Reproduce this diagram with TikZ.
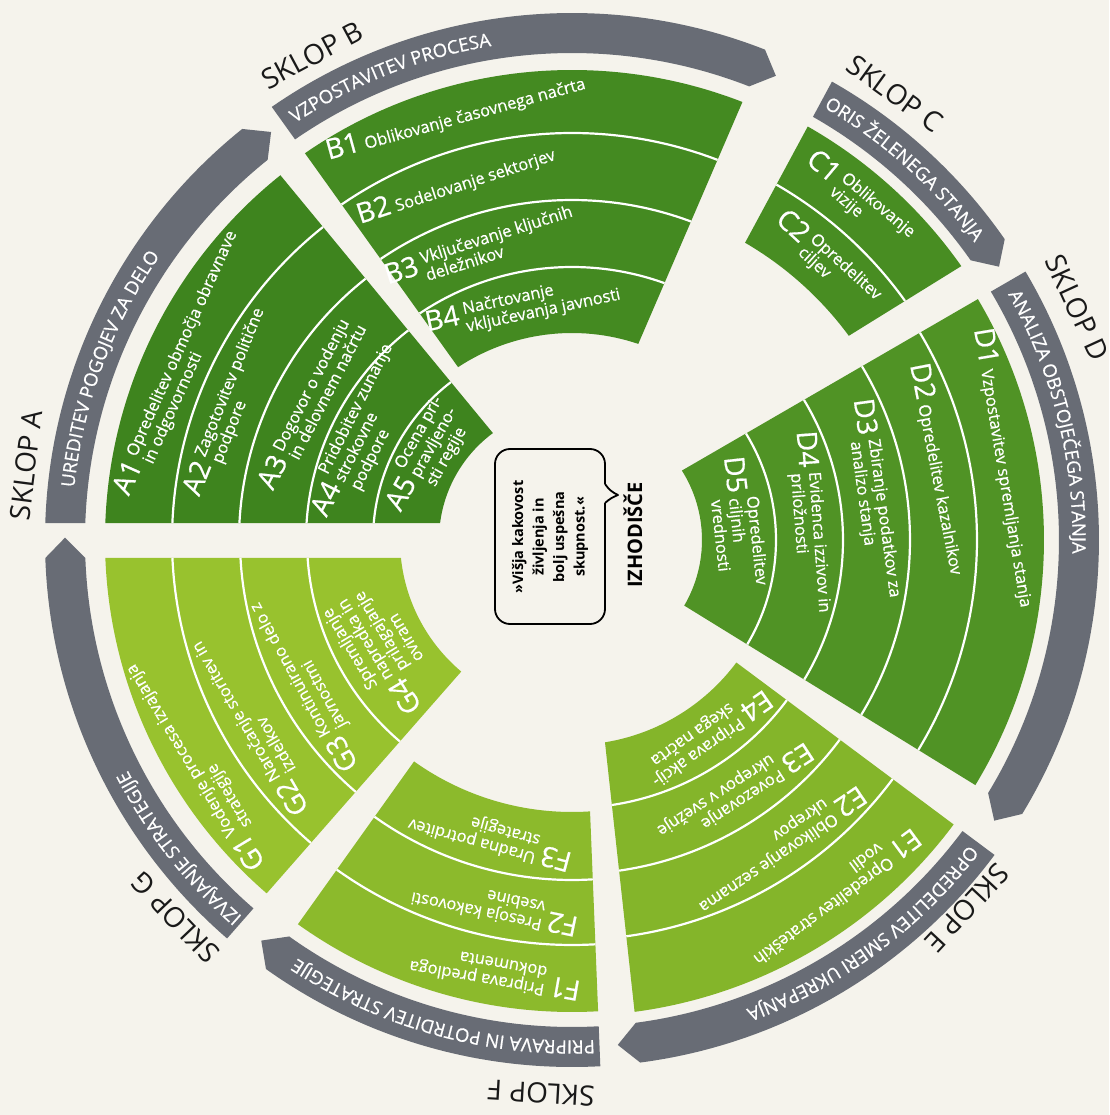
\documentclass[tikz,border=0pt]{standalone}
\usepackage{fontspec}
\setmainfont{Open Sans}
\newfontfamily\sbMedium{Open Sans}[FakeBold=0.6]
\usetikzlibrary{decorations.text}
\definecolor{bgc}{RGB}{245,243,236}
\definecolor{grayc}{RGB}{104,108,117}
\definecolor{cA}{RGB}{62,132,30}
\definecolor{cB}{RGB}{68,138,33}
\definecolor{cC}{RGB}{72,141,34}
\definecolor{cD}{RGB}{80,147,37}
\definecolor{cE}{RGB}{132,181,42}
\definecolor{cF}{RGB}{140,186,44}
\definecolor{cG}{RGB}{152,194,46}
% band of a sector: #1 phiS #2 pS #3 phiE #4 pE #5 rin #6 rout #7 colour
\newcommand{\sbBand}[7]{%
  \pgfmathsetmacro{\sbSo}{#1+asin((#2)/(#6))}%
  \pgfmathsetmacro{\sbEo}{#3+asin((#4)/(#6))}%
  \pgfmathsetmacro{\sbSi}{#1+asin((#2)/(#5))}%
  \pgfmathsetmacro{\sbEi}{#3+asin((#4)/(#5))}%
  \fill[#7] (\sbSo:#6) arc[start angle=\sbSo, end angle=\sbEo, radius=#6] -- (\sbEi:#5) arc[start angle=\sbEi, end angle=\sbSi, radius=#5] -- cycle;%
}
\newcommand{\sbLine}[5]{%
  \pgfmathsetmacro{\sbS}{#1+asin((#2)/(#5))}%
  \pgfmathsetmacro{\sbE}{#3+asin((#4)/(#5))}%
  \draw[sepline] (\sbS:#5) arc[start angle=\sbS, end angle=\sbE, radius=#5];%
}
\newcommand{\sbArrow}[4]{%
  \pgfmathsetmacro{\sbSo}{#1+asin((#2)/527)}%
  \pgfmathsetmacro{\sbEo}{#3+asin((#4)/527)}%
  \pgfmathsetmacro{\sbSi}{#1+asin((#2)/487)}%
  \pgfmathsetmacro{\sbEi}{#3+asin((#4)/487)}%
  \pgfmathsetmacro{\sbT}{#3+asin((#4)/507)-2.3}%
  \fill[grayc] (\sbSo:527) arc[start angle=\sbSo, end angle=\sbEo, radius=527] -- (\sbT:507) -- (\sbEi:487) arc[start angle=\sbEi, end angle=\sbSi, radius=487] -- cycle;%
}
\newcommand{\sbGrayText}[2]{%
  \pgfmathsetmacro{\sbGe}{#1-70}%
  \path[decorate, decoration={text along path, text={|\sbGfont|#2}}] (#1:500.5) arc[start angle=#1, end angle=\sbGe, radius=500.5];%
}
\newcommand{\sbGfont}{\sbMedium\fontsize{18.5}{18.5}\selectfont\color{white}}
\newcommand{\sbLab}[1]{{\sbMedium\fontsize{28}{29}\selectfont\begin{tabular}[c]{@{}l@{}}#1\end{tabular}}}
\newcommand{\sbTxt}[1]{{\sbMedium\fontsize{16.5}{18}\selectfont\begin{tabular}[c]{@{}l@{}}#1\end{tabular}}}
\newcommand{\sbItem}[2]{\sbLab{#1}\hspace{5pt}\sbTxt{#2}}
\begin{document}
\begin{tikzpicture}[x=1pt,y=1pt,
  sepline/.style={white, line width=2.2pt},
  item/.style={text=white, inner sep=0pt, anchor=center},
  sklop/.style={text=black!90, inner sep=0pt, font=\fontsize{28}{28}\selectfont},
  bubble/.style={draw=black, line width=1.8pt, rounded corners=15pt},
  quotetxt/.style={font=\bfseries\fontsize{14.5}{20.5}\selectfont, align=center, inner sep=0pt, rotate=90},
  starttxt/.style={font=\bfseries\fontsize{20}{20}\selectfont, inner sep=0pt, rotate=90}]
\fill[bgc] (-572,-575) rectangle (537,540);
\useasboundingbox (-572,-575) rectangle (537,540);
% ---- sectors
\sbBand{180}{-17}{129.5}{-7}{133}{467}{cA}
\foreach \rr in {400,333,266,199} {\sbLine{180}{-17}{129.5}{-7}{\rr}}
\sbBand{125.6}{-8}{66.7}{16.7}{207}{470}{cB}
\foreach \rr in {407,340,273} {\sbLine{125.6}{-8}{66.7}{16.7}{\rr}}
\sbBand{61.67}{-11.3}{31.78}{27.8}{344}{476}{cC}
\sbLine{61.67}{-11.3}{31.78}{27.8}{410}
\sbBand{30.08}{5}{-31.66}{3.1}{130}{472}{cD}
\foreach \rr in {405,338,271,204} {\sbLine{30.08}{5}{-31.66}{3.1}{\rr}}
\sbBand{-36.7}{0}{-83.73}{10.7}{205}{476}{cE}
\foreach \rr in {400,334,268} {\sbLine{-36.7}{0}{-83.73}{10.7}{\rr}}
\sbBand{-87.69}{7.1}{-125.5}{0}{272}{472}{cF}
\foreach \rr in {405,340} {\sbLine{-87.69}{7.1}{-125.5}{0}{\rr}}
\sbBand{-131.26}{3.5}{-180}{18}{172}{467}{cG}
\foreach \rr in {400,332,265} {\sbLine{-131.26}{3.5}{-180}{18}{\rr}}
% ---- gray arrows
\sbArrow{180}{-17}{129.5}{-7}
\sbArrow{125.6}{-8}{66.7}{16.7}
\sbArrow{61.67}{-11.3}{31.78}{27.8}
\sbArrow{30.08}{5}{-31.66}{3.1}
\sbArrow{-36.7}{0}{-83.73}{10.7}
\sbArrow{-87.69}{7.1}{-125.5}{0}
\sbArrow{-131.26}{3.5}{-180}{18}
\sbGrayText{174}{UREDITEV POGOJEV ZA DELO}
\sbGrayText{123.6}{VZPOSTAVITEV PROCESA}
\sbGrayText{59.8}{ORIS ŽELENEGA STANJA}
\sbGrayText{29.4}{ANALIZA OBSTOJEČEGA STANJA}
\sbGrayText{-37.5}{OPREDELITEV SMERI UKREPANJA}
\sbGrayText{-87.4}{PRIPRAVA IN POTRDITEV STRATEGIJE}
\sbGrayText{-131.2}{IZVAJANJE STRATEGIJE}
% ---- sklop labels
\node[sklop, rotate=82.7] (sA) at (172.2:551) {SKLOP A};
\node[sklop, rotate=28.2] (sB) at (118.2:550) {SKLOP B};
\node[sklop, rotate=-35.9] (sC) at (54.1:551) {SKLOP C};
\node[sklop, rotate=-65.3] (sD) at (24.7:556) {SKLOP D};
\node[sklop, rotate=-133] (sE) at (-43:540) {SKLOP E};
\node[sklop, rotate=-183.2] (sF) at (-93.2:554) {SKLOP F};
\node[sklop, rotate=-226.4] (sG) at (-136.4:548) {SKLOP G};
% ---- items A
\node[item, rotate=65.8] (a1) at (155.8:426) {\sbItem{A1}{Opredelitev območja obravnave\\in odgovornosti}};
\node[item, rotate=68.2] (a2) at (158.2:366) {\sbItem{A2}{Zagotovitev politične\\podpore}};
\node[item, rotate=62.7] (a3) at (152.7:292) {\sbItem{A3}{Dogovor o vodenju\\in delovnem načrtu}};
\node[item, rotate=63.2] (a4) at (153.2:233) {\sbItem{A4}{Pridobitev zunanje\\strokovne\\podpore}};
\node[item, rotate=60.9] (a5) at (150.9:167) {\sbItem{A5}{Ocena pri-\\pravljeno-\\sti regije}};
% ---- items B
\node[item, rotate=15.4] (b1) at (105.4:437) {\sbItem{B1}{Oblikovanje časovnega načrta}};
\node[item, rotate=18.1] (b2) at (108.1:372) {\sbItem{B2}{Sodelovanje sektorjev}};
\node[item, rotate=17.5] (b3) at (107.5:303) {\sbItem{B3}{Vključevanje ključnih\\deležnikov}};
\node[item, rotate=12] (b4) at (102:238) {\sbItem{B4}{Načrtovanje\\vključevanja javnosti}};
% ---- items C
\node[item, rotate=-40] (c1) at (50:443) {\sbItem{C1}{Oblikovanje\\vizije}};
\node[item, rotate=-42.2] (c2) at (47.8:376) {\sbItem{C2}{Opredelitev\\ciljev}};
% ---- items D
\node[item, rotate=-80.5] (d1) at (9.5:437) {\sbItem{D1}{Vzpostavitev spremljanja stanja}};
\node[item, rotate=-79] (d2) at (11:371) {\sbItem{D2}{Opredelitev kazalnikov}};
\node[item, rotate=-82.2] (d3) at (7.8:302) {\sbItem{D3}{Zbiranje podatkov za\\analizo stanja}};
\node[item, rotate=-85.7] (d4) at (4.3:236) {\sbItem{D4}{Evidenca izzivov in\\priložnosti}};
\node[item, rotate=-83.7] (d5) at (6.3:164) {\sbItem{D5}{Opredelitev\\ciljnih\\vrednosti}};
% ---- items E
\node[item, rotate=-143.5] (e1) at (-53.5:437) {\sbItem{E1}{Opredelitev strateških\\vodil}};
\node[item, rotate=-145.9] (e2) at (-55.9:367) {\sbItem{E2}{Oblikovanje seznama\\ukrepov}};
\node[item, rotate=-147] (e3) at (-57:300) {\sbItem{E3}{Povezovanje\\ukrepov v svežnje}};
\node[item, rotate=-145] (e4) at (-55:236) {\sbItem{E4}{Priprava akcij-\\skega načrta}};
% ---- items F
\node[item, rotate=-190] (f1) at (-100:437) {\sbItem{F1}{Priprava predloga\\dokumenta}};
\node[item, rotate=-191.8] (f2) at (-101.8:372) {\sbItem{F2}{Presoja kakovosti\\vsebine}};
\node[item, rotate=-195.2] (f3) at (-105.2:306) {\sbItem{F3}{Uradna potrditev\\strategije}};
% ---- items G
\node[item, rotate=-239] (g1) at (-149:433) {\sbItem{G1}{Vodenje procesa izvajanja\\strategije}};
\node[item, rotate=-239.8] (g2) at (-149.8:366) {\sbItem{G2}{Naročanje storitev in\\izdelkov}};
\node[item, rotate=-241.4] (g3) at (-151.4:299) {\sbItem{G3}{Kontinuirano delo z\\javnostmi}};
\node[item, rotate=-239.1] (g4) at (-149.1:218) {\sbItem{G4}{Spremljanje\\napredka in\\prilagajanje\\oviram}};
% ---- centre
\draw[bubble] (-77,-84) rectangle (33,91);
\fill[bgc] (31,37) rectangle (35,56);
\coordinate (tailA) at (33,56);
\coordinate (tailT) at (46,45);
\coordinate (tailB) at (33,37);
\draw[line width=1.8pt, line join=round] (tailA) to[bend right=15] (tailT) to[bend right=10] (tailB);
\node[quotetxt] (quote) at (-22,3) {»Višja kakovost\\življenja in\\bolj uspešna\\skupnost.«};
\node[starttxt] (start) at (61,5) {IZHODIŠČE};
\end{tikzpicture}
\end{document}
